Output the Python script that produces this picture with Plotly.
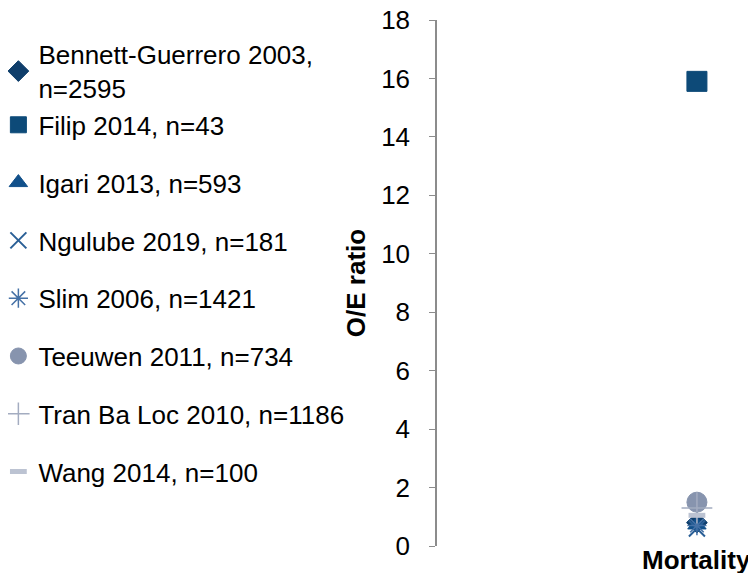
import plotly.graph_objects as go

categories = ["Mortality"]
series_names = [
    "Bennett-Guerrero 2003,<br>n=2595",
    "Filip 2014, n=43",
    "Igari 2013, n=593",
    "Ngulube 2019, n=181",
    "Slim 2006, n=1421",
    "Teeuwen 2011, n=734",
    "Tran Ba Loc 2010, n=1186",
    "Wang 2014, n=100",
]
oe_values = [0.8, 15.9, 0.72, 0.6, 0.7, 1.5, 1.3, 1.05]
y_ticks = [0, 2, 4, 6, 8, 10, 12, 14, 16, 18]

symbols = ["diamond", "square", "triangle-up", "x-thin-open", "asterisk-open",
           "circle", "cross-thin-open", "line-ew-open"]
colors = ["#0f3e6b", "#0d4a78", "#11508a", "#2a5f96", "#4571a6",
          "#8794ae", "#a3acc0", "#bcc3d2"]
sizes = [16, 20, 16, 16, 16, 20, 22, 12]
line_widths = [1, 1, 1, 2, 1.5, 1, 1.5, 5]
groups = ["a", "a", "b", "c", "d", "e", "f", "g"]

FONT = "Liberation Sans, Arial, sans-serif"

fig = go.Figure()
for name, val, sym, col, sz, lw, grp in zip(series_names, oe_values, symbols, colors,
                                           sizes, line_widths, groups):
    fig.add_trace(go.Scatter(
        x=categories, y=[val], mode="markers", name=name, legendgroup=grp,
        marker=dict(symbol=sym, color=col, size=sz,
                    line=dict(color=col, width=lw)),
        hoverinfo="name+y",
    ))

# category label drawn as text at the category's position on the x axis
for cat in categories:
    fig.add_annotation(
        x=cat, xref="x", y=0, yref="paper", yanchor="top", xanchor="center",
        text="<b>" + cat + "</b>", showarrow=False, yshift=3,
        font=dict(size=26, family=FONT, color="#000000"),
    )

fig.update_layout(
    width=756, height=573,
    margin=dict(l=429, r=8, t=12, b=35, autoexpand=False),
    plot_bgcolor="white", paper_bgcolor="white",
    font=dict(family=FONT, size=26, color="#000000"),
    showlegend=True,
    legend=dict(
        x=-1.375, y=0.9795, xanchor="left", yanchor="top",
        traceorder="grouped", tracegroupgap=21,
        font=dict(size=26, family=FONT), itemwidth=30,
        bgcolor="rgba(0,0,0,0)", maxheight=600,
    ),
    xaxis=dict(
        type="category", categoryarray=categories, range=[-2.2, 0.5],
        showline=False, showgrid=False, showticklabels=False,
        ticks="", zeroline=False, automargin=False,
    ),
    yaxis=dict(
        range=[0, 18], tickvals=y_ticks, showgrid=False, zeroline=False,
        showline=True, linecolor="#8c8c8c", linewidth=1.5,
        ticks="outside", ticklen=6, tickcolor="#8c8c8c",
        tickfont=dict(size=26), ticklabelstandoff=14, automargin=False,
        ticklabeloverflow="allow",
        title=dict(text="<b>O/E ratio</b>", font=dict(size=26), standoff=8),
    ),
)

fig.write_html("out.html")
